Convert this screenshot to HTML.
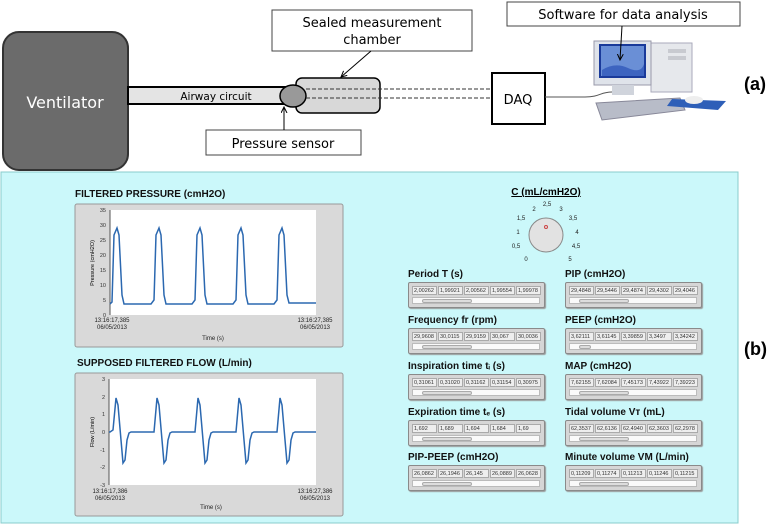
<!DOCTYPE html>
<html><head><meta charset="utf-8"><style>
html,body{margin:0;padding:0;background:#fff;}
body{width:767px;height:525px;position:relative;overflow:hidden;font-family:"Liberation Sans",sans-serif;}
.t{position:absolute;font-weight:bold;font-size:10px;color:#111;white-space:nowrap;}
.fb{position:absolute;width:135px;height:24px;background:#d6d6d6;border:1px solid #8a8a8a;border-radius:2px;box-shadow:1px 1px 1px #999;}
.cells{position:absolute;left:3px;top:3px;height:9px;display:flex;gap:1px;}
.cells span{display:block;width:25px;height:9px;background:#eee;border:1px solid #aaa;box-sizing:border-box;font-size:5.5px;line-height:8px;padding-left:1px;overflow:hidden;color:#333;}
.sc{position:absolute;left:3px;top:14px;width:128px;height:7px;background:#fafafa;border:1px solid #bbb;box-sizing:border-box;}
.sc i{position:absolute;left:9px;top:1px;width:50px;height:4px;background:#ddd;border:1px solid #aaa;box-sizing:border-box;border-radius:2px;}
</style></head><body>
<svg width="767" height="525" style="position:absolute;left:0;top:0" xmlns="http://www.w3.org/2000/svg">
<defs><marker id="ar" markerWidth="8" markerHeight="8" refX="6" refY="3" orient="auto"><path d="M0,0 L6,3 L0,6" fill="none" stroke="#000" stroke-width="1"/></marker></defs>
<!-- top diagram -->
<rect x="3" y="32" width="125" height="138" rx="16" fill="#6b6b6b" stroke="#333" stroke-width="2"/>
<text x="65" y="108" font-size="16" fill="#fff" text-anchor="middle" font-family="DejaVu Sans">Ventilator</text>
<rect x="128" y="87" width="162" height="17" fill="#e4e4e4" stroke="#000" stroke-width="2"/>
<text x="216" y="100" font-size="10.5" text-anchor="middle" font-family="DejaVu Sans">Airway circuit</text>
<rect x="296" y="78" width="84" height="35" rx="6" fill="#d8d8d8" stroke="#000" stroke-width="1.5"/>
<ellipse cx="293" cy="96" rx="13" ry="11" fill="#999" stroke="#000" stroke-width="1.5"/>
<line x1="306" y1="89" x2="492" y2="89" stroke="#333" stroke-dasharray="4,2"/>
<line x1="306" y1="98" x2="492" y2="98" stroke="#333" stroke-dasharray="4,2"/>
<rect x="272" y="10" width="200" height="41" fill="#fff" stroke="#444"/>
<text x="372" y="27" font-size="13" text-anchor="middle" font-family="DejaVu Sans">Sealed measurement</text>
<text x="372" y="44" font-size="13" text-anchor="middle" font-family="DejaVu Sans">chamber</text>
<line x1="371" y1="51" x2="341" y2="77" stroke="#000" marker-end="url(#ar)"/>
<rect x="206" y="130" width="155" height="25" fill="#fff" stroke="#444"/>
<text x="283" y="148" font-size="13" text-anchor="middle" font-family="DejaVu Sans">Pressure sensor</text>
<line x1="284" y1="130" x2="284" y2="107" stroke="#000" marker-end="url(#ar)"/>
<rect x="492" y="73" width="53" height="51" fill="#fff" stroke="#000" stroke-width="2"/>
<text x="518" y="104" font-size="13" text-anchor="middle" font-family="DejaVu Sans">DAQ</text>
<path d="M545,97 L585,97 C600,97 600,92 612,92 L622,92" fill="none" stroke="#555"/>
<rect x="507" y="2" width="233" height="24" fill="#fff" stroke="#444"/>
<text x="623" y="19" font-size="13" text-anchor="middle" font-family="DejaVu Sans">Software for data analysis</text>
<!-- computer -->
<rect x="651" y="43" width="41" height="49" fill="#e6e8ec" stroke="#aab"/>
<rect x="668" y="49" width="18" height="4" fill="#c8cad0"/><rect x="668" y="56" width="18" height="4" fill="#c8cad0"/>
<rect x="594" y="41" width="57" height="44" fill="#dfe3ea" stroke="#99a"/>
<rect x="600" y="45" width="45" height="32" fill="#6a8fd6" stroke="#1a3a9a" stroke-width="2"/>
<path d="M602,70 Q615,62 628,68 T644,64 L644,76 L602,76Z" fill="#3d64c0"/>
<rect x="612" y="85" width="22" height="10" fill="#d0d4dc"/>
<path d="M596,103 L680,98 L685,110 L602,120Z" fill="#b8bcc8" stroke="#889"/>
<path d="M672,99 L726,101 L718,110 L667,106Z" fill="#2e5fb8"/>
<ellipse cx="694" cy="100" rx="9" ry="4" fill="#eee"/>
<line x1="622" y1="26" x2="620" y2="60" stroke="#000" marker-end="url(#ar)"/>
<text x="744" y="90" font-size="18" font-weight="bold" font-family="Liberation Sans">(a)</text>
<!-- panel b -->
<rect x="1" y="172" width="737" height="351" fill="#cbf8fa" stroke="#8cc" />
<text x="744" y="355" font-size="18" font-weight="bold" font-family="Liberation Sans">(b)</text>
<!-- graph1 -->
<rect x="75" y="204" width="268" height="143" fill="#d9d9d9" stroke="#999" rx="2"/>
<rect x="110" y="210" width="206" height="105" fill="#fff"/>
<line x1="110" y1="210" x2="110" y2="315" stroke="#555"/>
<g font-size="5.5" font-family="Liberation Sans" text-anchor="end" fill="#333">
<text x="106" y="212">35</text><text x="106" y="227">30</text><text x="106" y="242">25</text><text x="106" y="257">20</text><text x="106" y="272">15</text><text x="106" y="287">10</text><text x="106" y="302">5</text><text x="106" y="317">0</text>
</g>
<text transform="translate(94,263) rotate(-90)" font-size="5.5" text-anchor="middle" font-family="Liberation Sans">Pressure (cmH2O)</text>
<path d="M110,304 L110,304 L112,302 L114,235 L117,228 L119,235 L122,295 L124,304 L151,304 L154,300 L156,235 L159,228 L161,235 L164,295 L166,304 L192,304 L195,300 L197,235 L200,228 L202,235 L205,295 L207,304 L233,304 L236,300 L238,235 L241,228 L243,235 L246,295 L248,304 L274,304 L277,300 L279,235 L282,228 L284,235 L287,295 L289,303 L316,303" fill="none" stroke="#2b68b0" stroke-width="1.5"/>
<g font-size="6" font-family="Liberation Sans" text-anchor="middle" fill="#222">
<text x="112" y="322">13:16:17,385</text><text x="112" y="329">06/05/2013</text>
<text x="315" y="322">13:16:27,385</text><text x="315" y="329">06/05/2013</text>
<text x="213" y="340">Time (s)</text>
</g>
<!-- graph2 -->
<rect x="75" y="373" width="268" height="143" fill="#d9d9d9" stroke="#999" rx="2"/>
<rect x="109" y="379" width="207" height="106" fill="#fff"/>
<line x1="109" y1="379" x2="109" y2="485" stroke="#555"/>
<g font-size="5.5" font-family="Liberation Sans" text-anchor="end" fill="#333">
<text x="105" y="381">3</text><text x="105" y="399">2</text><text x="105" y="416">1</text><text x="105" y="434">0</text><text x="105" y="452">-1</text><text x="105" y="469">-2</text><text x="105" y="487">-3</text>
</g>
<text transform="translate(94,432) rotate(-90)" font-size="5.5" text-anchor="middle" font-family="Liberation Sans">Flow (L/min)</text>
<path d="M109,432 L110,432 L113,430 L116,398 L118,405 L121,440 L123,463 L125,460 L127,440 L129,433 L131,432 L154,432 L157,398 L159,405 L162,440 L164,463 L166,460 L168,440 L170,433 L172,432 L195,432 L198,398 L200,405 L203,440 L205,463 L207,460 L209,440 L211,433 L213,432 L236,432 L239,398 L241,405 L244,440 L246,463 L248,460 L250,440 L252,433 L254,432 L277,432 L280,398 L282,405 L285,440 L287,463 L289,460 L291,440 L293,433 L295,432 L316,432" fill="none" stroke="#2b68b0" stroke-width="1.5"/>
<g font-size="6" font-family="Liberation Sans" text-anchor="middle" fill="#222">
<text x="110" y="493">13:16:17,386</text><text x="110" y="500">06/05/2013</text>
<text x="315" y="493">13:16:27,386</text><text x="315" y="500">06/05/2013</text>
<text x="211" y="509">Time (s)</text>
</g>
<!-- knob -->
<circle cx="546" cy="235" r="17" fill="#e2e2e2" stroke="#888"/>
<circle cx="546" cy="227" r="1.5" fill="none" stroke="#c44"/>
<g font-size="6" font-family="Liberation Sans" fill="#222" text-anchor="middle">
<text x="526" y="261">0</text><text x="516" y="248">0,5</text><text x="518" y="234">1</text><text x="521" y="220">1,5</text><text x="534" y="211">2</text><text x="547" y="206">2,5</text><text x="561" y="211">3</text><text x="573" y="220">3,5</text><text x="577" y="234">4</text><text x="576" y="248">4,5</text><text x="570" y="261">5</text>
</g>
<text x="546" y="195" font-size="10" font-weight="bold" text-anchor="middle" text-decoration="underline" font-family="Liberation Sans">C (mL/cmH2O)</text>
</svg>
<div class="t" style="left:75px;top:189px">FILTERED PRESSURE (cmH2O)</div>
<div class="t" style="left:77px;top:358px">SUPPOSED FILTERED FLOW (L/min)</div>

<div class="t" style="left:408px;top:269px">Period T (s)</div>
<div class="fb" style="left:408px;top:282px"><div class="cells"><span>2,00262</span><span>1,99921</span><span>2,00562</span><span>1,99554</span><span>1,99978</span></div><div class="sc"><i></i></div></div>
<div class="t" style="left:565px;top:269px">PIP (cmH2O)</div>
<div class="fb" style="left:565px;top:282px"><div class="cells"><span>29,4848</span><span>29,5446</span><span>29,4874</span><span>29,4302</span><span>29,4046</span></div><div class="sc"><i></i></div></div>

<div class="t" style="left:408px;top:315px">Frequency fr (rpm)</div>
<div class="fb" style="left:408px;top:328px"><div class="cells"><span>29,9608</span><span>30,0115</span><span>29,9159</span><span>30,067</span><span>30,0036</span></div><div class="sc"><i></i></div></div>
<div class="t" style="left:565px;top:315px">PEEP (cmH2O)</div>
<div class="fb" style="left:565px;top:328px"><div class="cells"><span>3,62111</span><span>3,61145</span><span>3,39859</span><span>3,3497</span><span>3,34242</span></div><div class="sc"><i style="width:12px"></i></div></div>

<div class="t" style="left:408px;top:361px">Inspiration time tᵢ (s)</div>
<div class="fb" style="left:408px;top:374px"><div class="cells"><span>0,31061</span><span>0,31020</span><span>0,31162</span><span>0,31154</span><span>0,30975</span></div><div class="sc"><i></i></div></div>
<div class="t" style="left:565px;top:361px">MAP (cmH2O)</div>
<div class="fb" style="left:565px;top:374px"><div class="cells"><span>7,62155</span><span>7,62084</span><span>7,45173</span><span>7,43922</span><span>7,39223</span></div><div class="sc"><i></i></div></div>

<div class="t" style="left:408px;top:407px">Expiration time tₑ (s)</div>
<div class="fb" style="left:408px;top:420px"><div class="cells"><span>1,692</span><span>1,689</span><span>1,694</span><span>1,684</span><span>1,69</span></div><div class="sc"><i></i></div></div>
<div class="t" style="left:565px;top:407px">Tidal volume Vт (mL)</div>
<div class="fb" style="left:565px;top:420px"><div class="cells"><span>62,3537</span><span>62,6136</span><span>62,4940</span><span>62,3603</span><span>62,2978</span></div><div class="sc"><i></i></div></div>

<div class="t" style="left:408px;top:452px">PIP-PEEP (cmH2O)</div>
<div class="fb" style="left:408px;top:465px"><div class="cells"><span>26,0862</span><span>26,1946</span><span>26,145</span><span>26,0889</span><span>26,0628</span></div><div class="sc"><i></i></div></div>
<div class="t" style="left:565px;top:452px">Minute volume VM (L/min)</div>
<div class="fb" style="left:565px;top:465px"><div class="cells"><span>0,11209</span><span>0,11274</span><span>0,11213</span><span>0,11246</span><span>0,11215</span></div><div class="sc"><i></i></div></div>
</body></html>
